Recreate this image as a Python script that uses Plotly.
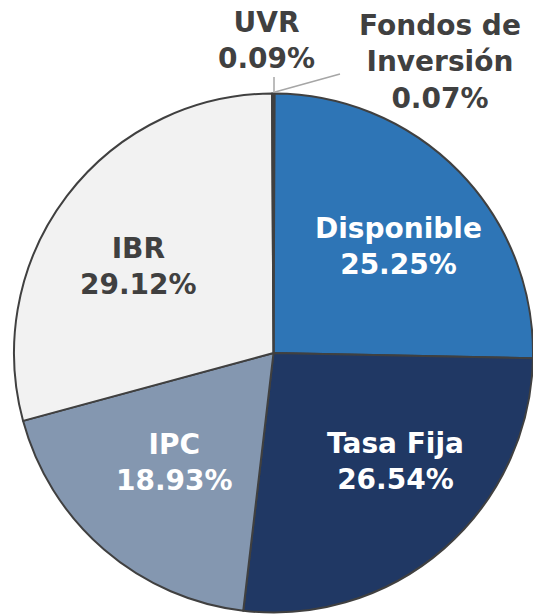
import plotly.graph_objects as go

labels = ["Fondos de Inversión", "Disponible", "Tasa Fija", "IPC", "IBR", "UVR"]
values = [0.07, 25.25, 26.54, 18.93, 29.12, 0.09]
colors = ["#2E75B6", "#2E75B6", "#203864", "#8497B0", "#F2F2F2", "#F2F2F2"]
text_colors = ["#404040", "#FFFFFF", "#FFFFFF", "#FFFFFF", "#404040", "#404040"]
display_labels = ["Fondos de<br>Inversión", "Disponible", "Tasa Fija", "IPC", "IBR", "UVR"]
# label centres (pixels) — layout only
label_pos = [(440, 62), (398, 246), (395, 461), (174, 462), (138, 266), (266, 40)]

W, H = 533, 616
FONT = "DejaVu Sans"
FS = 28

fig = go.Figure()
fig.add_trace(go.Pie(
    labels=labels, values=values, textinfo="none",
    sort=False, direction="clockwise", rotation=0,
    marker=dict(colors=colors, line=dict(color="#404040", width=2)),
    domain=dict(x=[14 / W, 1.0], y=[3 / H, 523 / H]),
    showlegend=False, hoverinfo="label+value",
))

fig.add_trace(go.Scatter(x=[0, W], y=[0, H], mode="markers",
                         marker=dict(opacity=0), showlegend=False, hoverinfo="skip"))

for lab, v, col, (px, py) in zip(display_labels, values, text_colors, label_pos):
    fig.add_annotation(x=px, y=py, xref="x", yref="y",
                       xanchor="center", yanchor="middle",
                       text=f"<b>{lab}<br>{v:.2f}%</b>", showarrow=False,
                       font=dict(family=FONT, size=FS, color=col),
                       align="center")

# leader lines for the tiny slices
fig.add_shape(type="line", x0=274, y0=93, x1=274, y1=77, xref="x", yref="y",
              line=dict(color="#A6A6A6", width=1.5))
fig.add_shape(type="line", x0=275, y0=92, x1=340, y1=74, xref="x", yref="y",
              line=dict(color="#A6A6A6", width=1.5))

fig.update_xaxes(range=[0, W], visible=False, fixedrange=True)
fig.update_yaxes(range=[H, 0], visible=False, fixedrange=True)
fig.update_layout(width=W, height=H, margin=dict(l=0, r=0, t=0, b=0),
                  paper_bgcolor="white", plot_bgcolor="rgba(0,0,0,0)")
fig.write_html("out.html", config={"displayModeBar": False},
               post_script="document.body.style.margin='0';document.body.style.overflow='hidden';")
